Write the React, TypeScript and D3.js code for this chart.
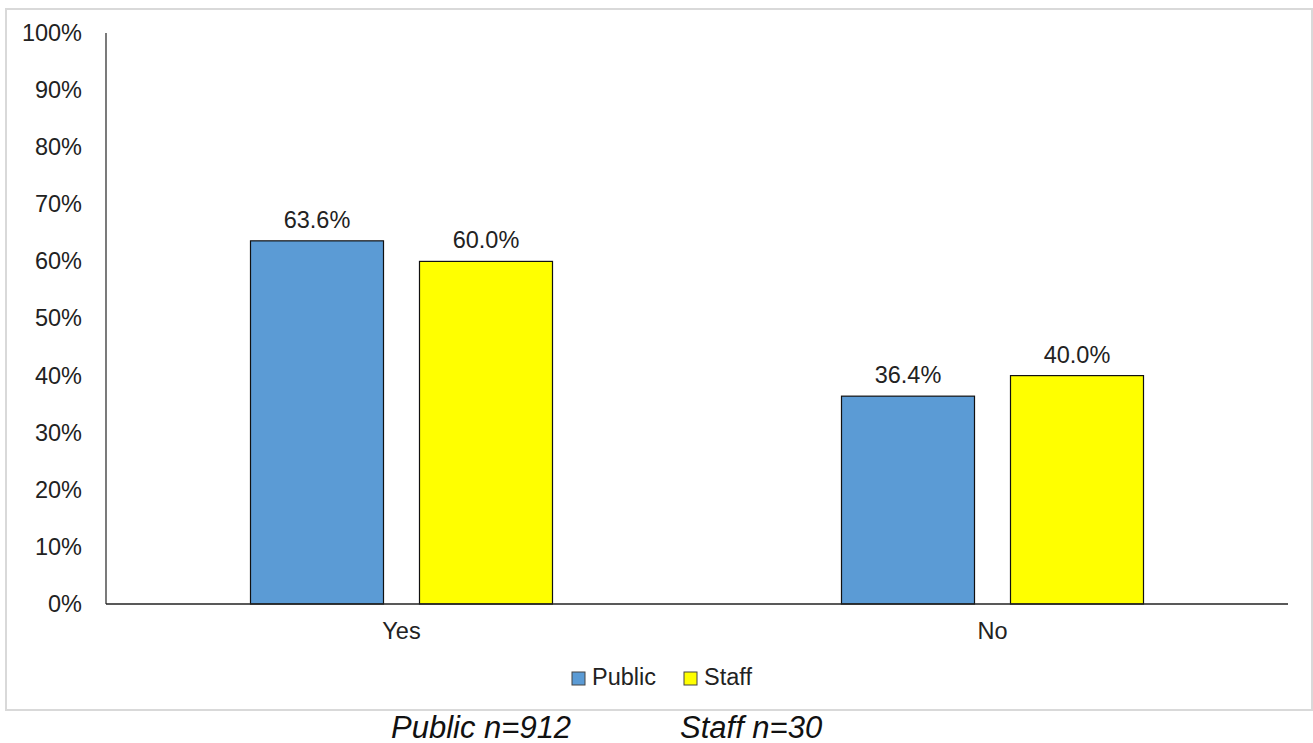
import React, { useRef, useEffect } from 'react';
import * as d3 from 'd3';

const categories = ['Yes', 'No'];
const seriesNames = ['Public', 'Staff'];
const publicValues = [0.636, 0.364];
const staffValues = [0.6, 0.4];
const yTicks = [0, 0.1, 0.2, 0.3, 0.4, 0.5, 0.6, 0.7, 0.8, 0.9, 1];
const footnotes = ['Public n=912', 'Staff n=30'];

const COLORS: Record<string, string> = { Public: '#5B9BD5', Staff: '#FFFF00' };
const FONT = '"Liberation Sans", Arial, sans-serif';

export default function App() {
    const ref = useRef<SVGSVGElement>(null);
    const width = 1313;
    const height = 743;

    useEffect(() => {
        if (!ref.current) return;
        const svg = d3.select(ref.current);
        svg.selectAll('*').remove();

        const rows = categories.map((c, i) => ({
            category: c,
            values: [
                { name: 'Public', value: publicValues[i] },
                { name: 'Staff', value: staffValues[i] },
            ],
        }));

        const left = 106, right = 1288, top = 33, bottom = 604;

        // chart frame
        svg.append('rect')
            .attr('x', 6).attr('y', 9)
            .attr('width', 1306).attr('height', 701)
            .attr('fill', '#fff')
            .attr('stroke', '#d9d9d9')
            .attr('stroke-width', 2);

        const x0 = d3.scaleBand<string>()
            .domain(categories)
            .range([left, right])
            .paddingInner(0.489)
            .paddingOuter(0.2445);
        const x1 = d3.scaleBand<string>()
            .domain(seriesNames)
            .range([0, x0.bandwidth()])
            .paddingInner(0.213);
        const y = d3.scaleLinear().domain([0, 1]).range([bottom, top]);

        // y tick labels
        svg.append('g')
            .selectAll('text')
            .data(yTicks)
            .join('text')
            .attr('x', 82)
            .attr('y', d => y(d))
            .attr('dy', '0.34em')
            .attr('text-anchor', 'end')
            .attr('font-family', FONT)
            .attr('font-size', 23.5)
            .attr('fill', '#222')
            .text(d => d3.format('.0%')(d));

        // bars
        const groups = svg.append('g')
            .selectAll('g')
            .data(rows)
            .join('g')
            .attr('transform', d => `translate(${x0(d.category)},0)`);

        groups.selectAll('rect')
            .data(d => d.values)
            .join('rect')
            .attr('x', d => x1(d.name)!)
            .attr('y', d => y(d.value))
            .attr('width', x1.bandwidth())
            .attr('height', d => bottom - y(d.value))
            .attr('fill', d => COLORS[d.name])
            .attr('stroke', '#111')
            .attr('stroke-width', 1.2);

        groups.selectAll('text')
            .data(d => d.values)
            .join('text')
            .attr('x', d => x1(d.name)! + x1.bandwidth() / 2)
            .attr('y', d => y(d.value) - 13)
            .attr('text-anchor', 'middle')
            .attr('font-family', FONT)
            .attr('font-size', 23.5)
            .attr('fill', '#222')
            .text(d => d3.format('.1%')(d.value));

        // axes lines
        svg.append('line')
            .attr('x1', left).attr('x2', left)
            .attr('y1', top).attr('y2', bottom)
            .attr('stroke', '#222').attr('stroke-width', 1.2);
        svg.append('line')
            .attr('x1', left).attr('x2', right)
            .attr('y1', bottom).attr('y2', bottom)
            .attr('stroke', '#222').attr('stroke-width', 1.5);

        // category labels
        svg.append('g')
            .selectAll('text')
            .data(categories)
            .join('text')
            .attr('x', d => x0(d)! + x0.bandwidth() / 2)
            .attr('y', 639)
            .attr('text-anchor', 'middle')
            .attr('font-family', FONT)
            .attr('font-size', 23.5)
            .attr('fill', '#222')
            .text(d => d);

        // legend
        const legendX = [572, 684];
        const legend = svg.append('g')
            .selectAll('g')
            .data(seriesNames)
            .join('g')
            .attr('transform', (_d, i) => `translate(${legendX[i]},672)`);
        legend.append('rect')
            .attr('width', 13).attr('height', 13)
            .attr('fill', d => COLORS[d])
            .attr('stroke', '#444')
            .attr('stroke-width', 1);
        legend.append('text')
            .attr('x', 20).attr('y', 13)
            .attr('font-family', FONT)
            .attr('font-size', 23.5)
            .attr('fill', '#222')
            .text(d => d);

        // sample sizes below the frame
        const footX = [391, 680];
        svg.append('g')
            .selectAll('text')
            .data(footnotes)
            .join('text')
            .attr('x', (_d, i) => footX[i])
            .attr('y', 738)
            .attr('font-family', FONT)
            .attr('font-style', 'italic')
            .attr('font-size', 31)
            .attr('fill', '#111')
            .text(d => d);
    }, []);

    return (
        <svg
            ref={ref}
            width={width}
            height={height}
            style={{ position: 'absolute', left: 0, top: 0, background: '#fff' }}
        />
    );
}
